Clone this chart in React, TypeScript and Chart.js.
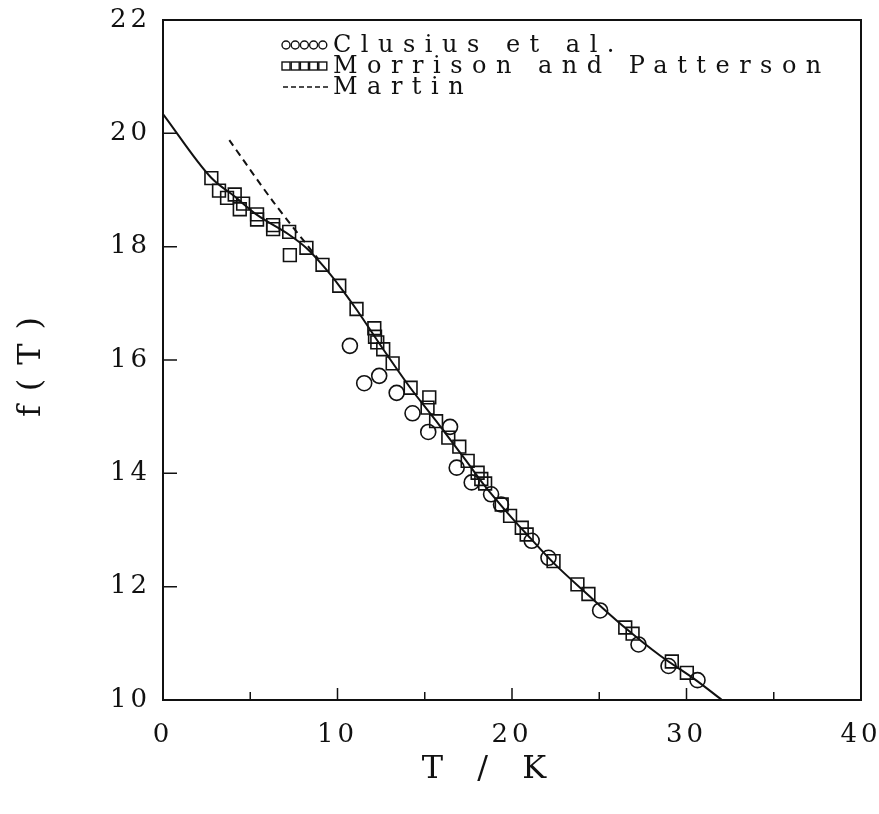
import React, { useEffect, useRef } from 'react';
import { Chart, registerables } from 'chart.js';

Chart.register(...registerables);

// ---- data ----
const clusiusT = [10.71, 11.53, 12.39, 13.39, 14.3, 15.2, 16.45, 16.83, 17.69, 18.8, 19.37, 21.13, 22.09, 25.05, 27.25, 28.97, 30.63];
const clusiusF = [16.25, 15.59, 15.72, 15.42, 15.06, 14.73, 14.82, 14.1, 13.84, 13.63, 13.45, 12.81, 12.51, 11.58, 10.98, 10.6, 10.35];

const morrisonT = [2.77, 3.21, 3.67, 4.11, 4.59, 4.4, 5.39, 5.39, 6.31, 6.31, 7.23, 7.27, 8.22, 9.14, 10.1, 11.09, 12.11, 12.15, 12.28, 12.62, 13.16, 14.19, 15.26, 15.16, 15.65, 16.35, 16.98, 17.46, 18.03, 18.24, 18.46, 19.41, 19.89, 20.56, 20.84, 22.38, 23.75, 24.38, 26.49, 26.91, 29.16, 30.02];
const morrisonF = [19.21, 18.99, 18.86, 18.92, 18.76, 18.66, 18.57, 18.48, 18.38, 18.31, 18.26, 17.85, 17.98, 17.68, 17.31, 16.9, 16.56, 16.41, 16.31, 16.19, 15.94, 15.51, 15.34, 15.16, 14.92, 14.63, 14.47, 14.22, 14.01, 13.9, 13.82, 13.45, 13.25, 13.04, 12.92, 12.45, 12.04, 11.87, 11.28, 11.17, 10.68, 10.48];

const fitT = [0, 2.75, 4.13, 5.39, 7.23, 8.2, 9.18, 10.1, 11.07, 12.62, 14.17, 15.66, 17.38, 18.36, 19.89, 21.04, 22.38, 24.38, 26.5, 28.5, 30.5, 32.03];
const fitF = [20.34, 19.22, 18.88, 18.56, 18.21, 17.98, 17.66, 17.31, 16.9, 16.19, 15.51, 14.92, 14.22, 13.81, 13.25, 12.86, 12.42, 11.85, 11.27, 10.78, 10.36, 10.0];

const martinT = [3.8, 6.3, 8.9];
const martinF = [19.88, 18.8, 17.78];

const xMajorTicks = [10, 20, 30];
const xMinorTicks = [5, 15, 25, 35];
const yTickMarks = [12, 14, 16, 18, 20];

const legendLabels = ['Clusius et al.', 'Morrison and Patterson', 'Martin'];
const xTitle = 'T / K';
const yTitle = 'f(T)';

const INK = '#111';
const FONT = '"DejaVu Serif", "Liberation Serif", serif';

const pts = (xs: number[], ys: number[]) => xs.map((x, i) => ({ x, y: ys[i] }));

const framePlugin = {
  id: 'frameAndText',
  beforeDraw(chart: any) {
    const ctx = chart.ctx;
    ctx.fillStyle = '#fff';
    ctx.fillRect(0, 0, chart.width, chart.height);
    ctx.letterSpacing = '4px';
  },
  afterDraw(chart: any) {
    const { ctx, chartArea: a, scales } = chart;
    const sx = scales.x;
    const sy = scales.y;
    ctx.save();
    ctx.letterSpacing = '0px';
    ctx.strokeStyle = INK;
    ctx.lineWidth = 2;
    ctx.strokeRect(a.left, a.top, a.right - a.left, a.bottom - a.top);
    ctx.lineWidth = 1.5;
    ctx.beginPath();
    for (const t of xMajorTicks) {
      const px = sx.getPixelForValue(t);
      ctx.moveTo(px, a.bottom);
      ctx.lineTo(px, a.bottom - 12);
    }
    for (const t of xMinorTicks) {
      const px = sx.getPixelForValue(t);
      ctx.moveTo(px, a.bottom);
      ctx.lineTo(px, a.bottom - 8);
    }
    for (const v of yTickMarks) {
      const py = sy.getPixelForValue(v);
      ctx.moveTo(a.left, py);
      ctx.lineTo(a.left + 14, py);
    }
    ctx.stroke();

    // axis titles
    ctx.fillStyle = INK;
    ctx.font = `32px ${FONT}`;
    ctx.letterSpacing = '12px';
    ctx.textAlign = 'center';
    ctx.textBaseline = 'middle';
    ctx.fillText(xTitle, 490, 770);
    ctx.save();
    ctx.translate(32, 360);
    ctx.rotate(-Math.PI / 2);
    ctx.letterSpacing = '14px';
    ctx.fillText(yTitle, 0, 0);
    ctx.restore();

    // legend
    const symX = 286;
    const textX = 333;
    const rows = [45, 66, 87];
    ctx.lineWidth = 1.4;
    for (let i = 0; i < 5; i++) {
      const cx = symX + i * 9.2;
      ctx.beginPath();
      ctx.arc(cx, rows[0], 4, 0, Math.PI * 2);
      ctx.stroke();
      ctx.strokeRect(cx - 4, rows[1] - 4, 8, 8);
    }
    ctx.lineWidth = 1.6;
    ctx.setLineDash([5, 3]);
    ctx.beginPath();
    ctx.moveTo(symX - 3, rows[2]);
    ctx.lineTo(symX + 43, rows[2]);
    ctx.stroke();
    ctx.setLineDash([]);

    ctx.font = `24px ${FONT}`;
    ctx.letterSpacing = '9.5px';
    ctx.textAlign = 'left';
    legendLabels.forEach((lbl, i) => ctx.fillText(lbl, textX, rows[i] + 1));
    ctx.restore();
  },
};

export default function App() {
  const ref = useRef<HTMLCanvasElement | null>(null);
  useEffect(() => {
    document.body.style.margin = '0';
    const canvas = ref.current!;
    const chart = new Chart(canvas, {
      type: 'scatter',
      data: {
        datasets: [
          {
            label: 'fit',
            type: 'line',
            data: pts(fitT, fitF),
            borderColor: INK,
            borderWidth: 2,
            pointRadius: 0,
            cubicInterpolationMode: 'monotone',
            fill: false,
          } as any,
          {
            label: legendLabels[2],
            type: 'line',
            data: pts(martinT, martinF),
            borderColor: INK,
            borderWidth: 2,
            borderDash: [7, 5],
            pointRadius: 0,
            tension: 0.3,
            fill: false,
          } as any,
          {
            label: legendLabels[1],
            data: pts(morrisonT, morrisonF),
            pointStyle: 'rect',
            pointRadius: 9,
            borderWidth: 1.6,
            borderColor: INK,
            backgroundColor: 'rgba(0,0,0,0)',
            showLine: false,
          },
          {
            label: legendLabels[0],
            data: pts(clusiusT, clusiusF),
            pointStyle: 'circle',
            pointRadius: 7.5,
            borderWidth: 1.6,
            borderColor: INK,
            backgroundColor: 'rgba(0,0,0,0)',
            showLine: false,
          },
        ],
      },
      options: {
        animation: false,
        responsive: false,
        devicePixelRatio: 1,
        layout: { padding: { left: 0, right: 18, top: 20, bottom: 0 } },
        plugins: { legend: { display: false }, tooltip: { enabled: false } },
        scales: {
          x: {
            type: 'linear',
            min: 0,
            max: 40,
            grid: { display: false, drawTicks: false },
            border: { display: false },
            ticks: { stepSize: 10, color: INK, font: { family: FONT, size: 26 }, padding: 20, maxRotation: 0 },
            afterFit: (s: any) => { s.height = 114; s.paddingLeft = 0; s.paddingRight = 0; },
          },
          y: {
            type: 'linear',
            min: 10,
            max: 22,
            grid: { display: false, drawTicks: false },
            border: { display: false },
            ticks: { stepSize: 2, color: INK, font: { family: FONT, size: 26 }, padding: 12 },
            afterFit: (s: any) => { s.width = 163; s.paddingTop = 0; s.paddingBottom = 0; },
          },
        },
      },
      plugins: [framePlugin],
    });
    return () => chart.destroy();
  }, []);
  return <canvas ref={ref} width={879} height={814} style={{ display: 'block' }} />;
}
